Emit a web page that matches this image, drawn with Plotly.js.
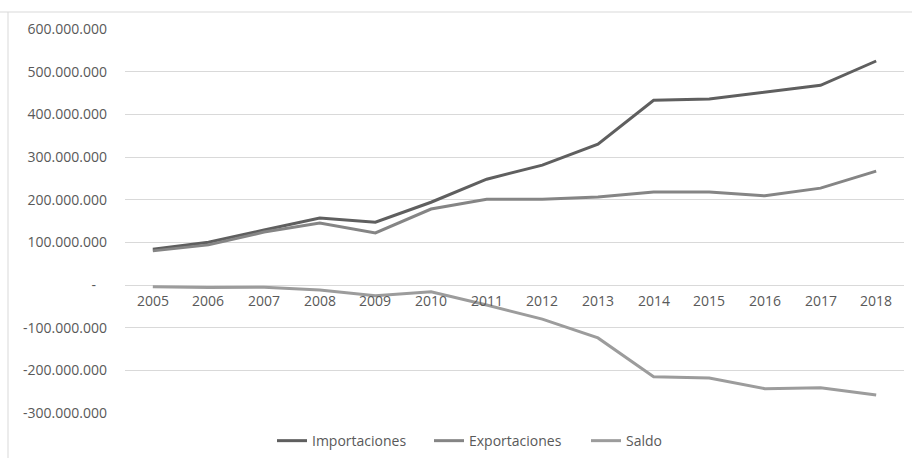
<!DOCTYPE html>
<html>
<head>
<meta charset="utf-8">
<script src="https://cdn.plot.ly/plotly-3.0.1.min.js"></script>
<style>
html,body{margin:0;padding:0;background:#fff;}
#chart{width:912px;height:458px;}
</style>
</head>
<body>
<div id="chart"></div>
<script>
const years = ['2005','2006','2007','2008','2009','2010','2011','2012','2013','2014','2015','2016','2017','2018'];
const importaciones = [84e6, 100e6, 129e6, 157e6, 147e6, 194e6, 248e6, 281e6, 330e6, 433e6, 436e6, 452e6, 468e6, 525e6];
const exportaciones = [80e6, 94e6, 124e6, 145e6, 122e6, 178e6, 201e6, 201e6, 206e6, 218e6, 218e6, 209e6, 227e6, 267e6];
const saldo = [-4e6, -6e6, -5e6, -12e6, -25e6, -16e6, -47e6, -80e6, -124e6, -215e6, -218e6, -243e6, -241e6, -258e6];
const yTickVals = [600e6, 500e6, 400e6, 300e6, 200e6, 100e6, 0, -100e6, -200e6, -300e6];
const yTickText = ['600.000.000','500.000.000','400.000.000','300.000.000','200.000.000','100.000.000','-\u00a0\u00a0\u00a0','-100.000.000','-200.000.000','-300.000.000'];

const font = {family: '"Open Sans", "DejaVu Sans", sans-serif', size: 14, color: '#595959'};

const traces = [
  {x: years, y: importaciones, name: 'Importaciones', type: 'scatter', mode: 'lines', line: {color: '#5f5f5f', width: 3}},
  {x: years, y: exportaciones, name: 'Exportaciones', type: 'scatter', mode: 'lines', line: {color: '#858585', width: 3}},
  {x: years, y: saldo, name: 'Saldo', type: 'scatter', mode: 'lines', line: {color: '#9c9c9c', width: 3}}
];

const annotations = years.map((yr, i) => ({
  x: i, y: 0, xref: 'x', yref: 'y', text: yr, showarrow: false,
  yanchor: 'top', yshift: -4, font: Object.assign({}, font)
}));

const layout = {
  width: 912, height: 458,
  margin: {l: 125, r: 8, t: 29, b: 45, autoexpand: false},
  paper_bgcolor: '#ffffff', plot_bgcolor: '#ffffff',
  font: Object.assign({}, font),
  showlegend: true,
  legend: {orientation: 'h', xref: 'container', yref: 'container', x: 272/912, xanchor: 'left', y: 0.037, yanchor: 'middle', font: Object.assign({}, font), traceorder: 'normal', entrywidth: 112, entrywidthmode: 'pixels'},
  xaxis: {type: 'category', range: [-0.5, 13.5], showticklabels: false, showgrid: false, zeroline: false, showline: false, ticks: ''},
  yaxis: {range: [-300e6, 600e6], tickvals: yTickVals, ticktext: yTickText, showgrid: true, gridcolor: '#d9d9d9', gridwidth: 1, zeroline: false, showline: false, ticks: '', ticklabelstandoff: 17, tickfont: Object.assign({}, font)},
  annotations: annotations,
  shapes: [
    {type: 'line', xref: 'paper', yref: 'paper', x0: -125/779, x1: 1.02, y0: (413-12)/384, y1: (413-12)/384, line: {color: '#d9d9d9', width: 1}},
    {type: 'line', xref: 'paper', yref: 'paper', x0: -117/779, x1: -117/779, y0: (413-12)/384, y1: -0.2, line: {color: '#d9d9d9', width: 1}}
  ],
  hovermode: false
};

Plotly.newPlot('chart', traces, layout, {displayModeBar: false, staticPlot: true});
</script>
</body>
</html>
